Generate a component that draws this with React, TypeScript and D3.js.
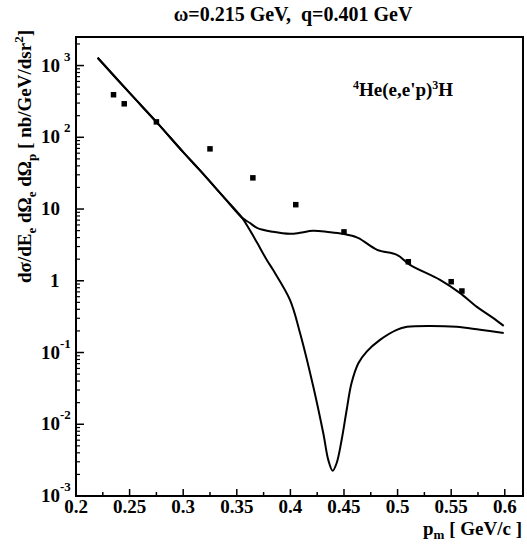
import React from 'react';
import * as d3 from 'd3';

// measured data points (p_m in GeV/c, cross section in nb/GeV/dsr^2)
const dataX = [0.235, 0.245, 0.275, 0.325, 0.365, 0.405, 0.45, 0.51, 0.55, 0.56];
const dataY = [392, 293, 164, 69, 27.2, 11.5, 4.8, 1.84, 0.97, 0.72];

// shared part of both calculated curves
const commonX = [0.2202, 0.25, 0.2756, 0.3, 0.3157, 0.337, 0.355];
const commonY = [1285, 415, 160, 62, 34.5, 15.1, 7.53];

// upper curve branch
const upperX = [0.362, 0.3688, 0.3838, 0.3996, 0.409, 0.421, 0.435, 0.449, 0.463, 0.481, 0.4994, 0.5116, 0.5396, 0.558, 0.574, 0.589, 0.599];
const upperY = [6.43, 5.47, 4.81, 4.51, 4.66, 4.97, 4.79, 4.51, 3.96, 2.7, 2.3, 1.67, 1.03, 0.678, 0.433, 0.304, 0.235];

// lower curve branch
const lowerX = [0.362, 0.369, 0.378, 0.3838, 0.3996, 0.409, 0.4214, 0.4307, 0.4354, 0.4394, 0.4431, 0.4478, 0.4525, 0.457, 0.4634, 0.4712, 0.4836, 0.4992, 0.5088, 0.53, 0.555, 0.577, 0.599];
const lowerY = [5.13, 3.38, 1.95, 1.42, 0.542, 0.1875, 0.0334, 0.00748, 0.00316, 0.00225, 0.00286, 0.00603, 0.0158, 0.0372, 0.0708, 0.103, 0.15, 0.207, 0.228, 0.235, 0.228, 0.207, 0.1875];

const xTickValues = [0.2, 0.25, 0.3, 0.35, 0.4, 0.45, 0.5, 0.55, 0.6];
const xTickLabels = ['0.2', '0.25', '0.3', '0.35', '0.4', '0.45', '0.5', '0.55', '0.6'];
const yDecades = [-3, -2, -1, 0, 1, 2, 3];

const title = 'ω=0.215 GeV,\u00a0\u00a0q=0.401 GeV';

const FONT = '"Liberation Serif", "DejaVu Serif", serif';

export default function App() {
  const x = d3.scaleLinear().domain([0.2, 0.617]).range([76, 523]);
  const y = d3.scaleLog().domain([1e-3, 2500]).range([496, 37]);

  const line = d3
    .line<[number, number]>()
    .x((d) => x(d[0]))
    .y((d) => y(d[1]))
    .curve(d3.curveCatmullRom.alpha(0.5));

  const common: [number, number][] = commonX.map((v, i) => [v, commonY[i]]);
  const upper = common.concat(upperX.map((v, i) => [v, upperY[i]] as [number, number]));
  const lower = common.concat(lowerX.map((v, i) => [v, lowerY[i]] as [number, number]));

  const xMinor: number[] = d3.range(0, 17).map((i) => 0.2 + i * 0.025).filter((v) => Math.abs(((v - 0.2) / 0.05) - Math.round((v - 0.2) / 0.05)) > 0.1);
  const yMinor: number[] = [];
  yDecades.forEach((d) => {
    for (let k = 2; k <= 9; k++) {
      const v = k * Math.pow(10, d);
      if (v < 2500) yMinor.push(v);
    }
  });

  const x0 = 76, x1 = 523, yb = 496, yt = 37;

  return (
    <svg width={527} height={546} style={{ position: 'absolute', left: 0, top: 0, display: 'block' }} fontFamily={FONT} fontWeight="bold">
      <rect x={0} y={0} width={527} height={546} fill="#fff" />
      <text x={293} y={21} textAnchor="middle" fontSize={20}>{title}</text>

      {/* frame */}
      <rect x={x0} y={yt} width={x1 - x0} height={yb - yt} fill="none" stroke="#000" strokeWidth={2} />

      {/* x ticks */}
      {xTickValues.map((v) => (
        <line key={'xt' + v} x1={x(v)} x2={x(v)} y1={yb} y2={yb - 7} stroke="#000" strokeWidth={1.5} />
      ))}
      {xMinor.map((v) => (
        <line key={'xm' + v} x1={x(v)} x2={x(v)} y1={yb} y2={yb - 4} stroke="#000" strokeWidth={1.5} />
      ))}
      {xTickValues.map((v, i) => (
        <text key={'xl' + v} x={x(v)} y={513} textAnchor="middle" fontSize={19}>{xTickLabels[i]}</text>
      ))}

      {/* y ticks */}
      {yDecades.map((d) => (
        <line key={'yt' + d} x1={x0} x2={x0 + 8} y1={y(Math.pow(10, d))} y2={y(Math.pow(10, d))} stroke="#000" strokeWidth={1.5} />
      ))}
      {yMinor.map((v) => (
        <line key={'ym' + v} x1={x0} x2={x0 + 4} y1={y(v)} y2={y(v)} stroke="#000" strokeWidth={1.2} />
      ))}
      {yDecades.map((d) => {
        const ty = y(Math.pow(10, d));
        if (d === 0) return <text key={'yl' + d} x={50} y={ty + 6} fontSize={19}>1</text>;
        if (d === 1) return <text key={'yl' + d} x={41} y={ty + 6} fontSize={19}>10</text>;
        return (
          <g key={'yl' + d}>
            <text x={41} y={ty + 6} fontSize={19}>10</text>
            <text x={d > 0 ? 64 : 60} y={ty - 5} fontSize={13}>{String(d)}</text>
          </g>
        );
      })}

      {/* curves */}
      <path d={line(lower) || ''} fill="none" stroke="#000" strokeWidth={2} />
      <path d={line(upper) || ''} fill="none" stroke="#000" strokeWidth={2} />

      {/* data points */}
      {dataX.map((v, i) => (
        <rect key={'p' + i} x={x(v) - 2.75} y={y(dataY[i]) - 2.75} width={5.5} height={5.5} fill="#000" />
      ))}

      {/* annotation */}
      <text x={353} y={96} fontSize={19}>
        <tspan fontSize={12} dy={-7}>4</tspan>
        <tspan dy={7}>He(e,e'p)</tspan>
        <tspan fontSize={12} dy={-7}>3</tspan>
        <tspan dy={7}>H</tspan>
      </text>

      {/* y axis label */}
      <text transform="translate(31,283) rotate(-90)" fontSize={19}>
        dσ/dE<tspan fontSize={13} dy={5}>e</tspan>
        <tspan dy={-5}> dΩ</tspan><tspan fontSize={13} dy={5}>e</tspan>
        <tspan dy={-5}> dΩ</tspan><tspan fontSize={13} dy={5}>p</tspan>
        <tspan dy={-5}> [ nb/GeV/dsr</tspan><tspan fontSize={13} dy={-8}>2</tspan>
        <tspan dy={8}>]</tspan>
      </text>

      {/* x axis label */}
      <text x={522} y={535} textAnchor="end" fontSize={19}>
        p<tspan fontSize={13} dy={4}>m</tspan>
        <tspan dy={-4}> [ GeV/c ]</tspan>
      </text>
    </svg>
  );
}
